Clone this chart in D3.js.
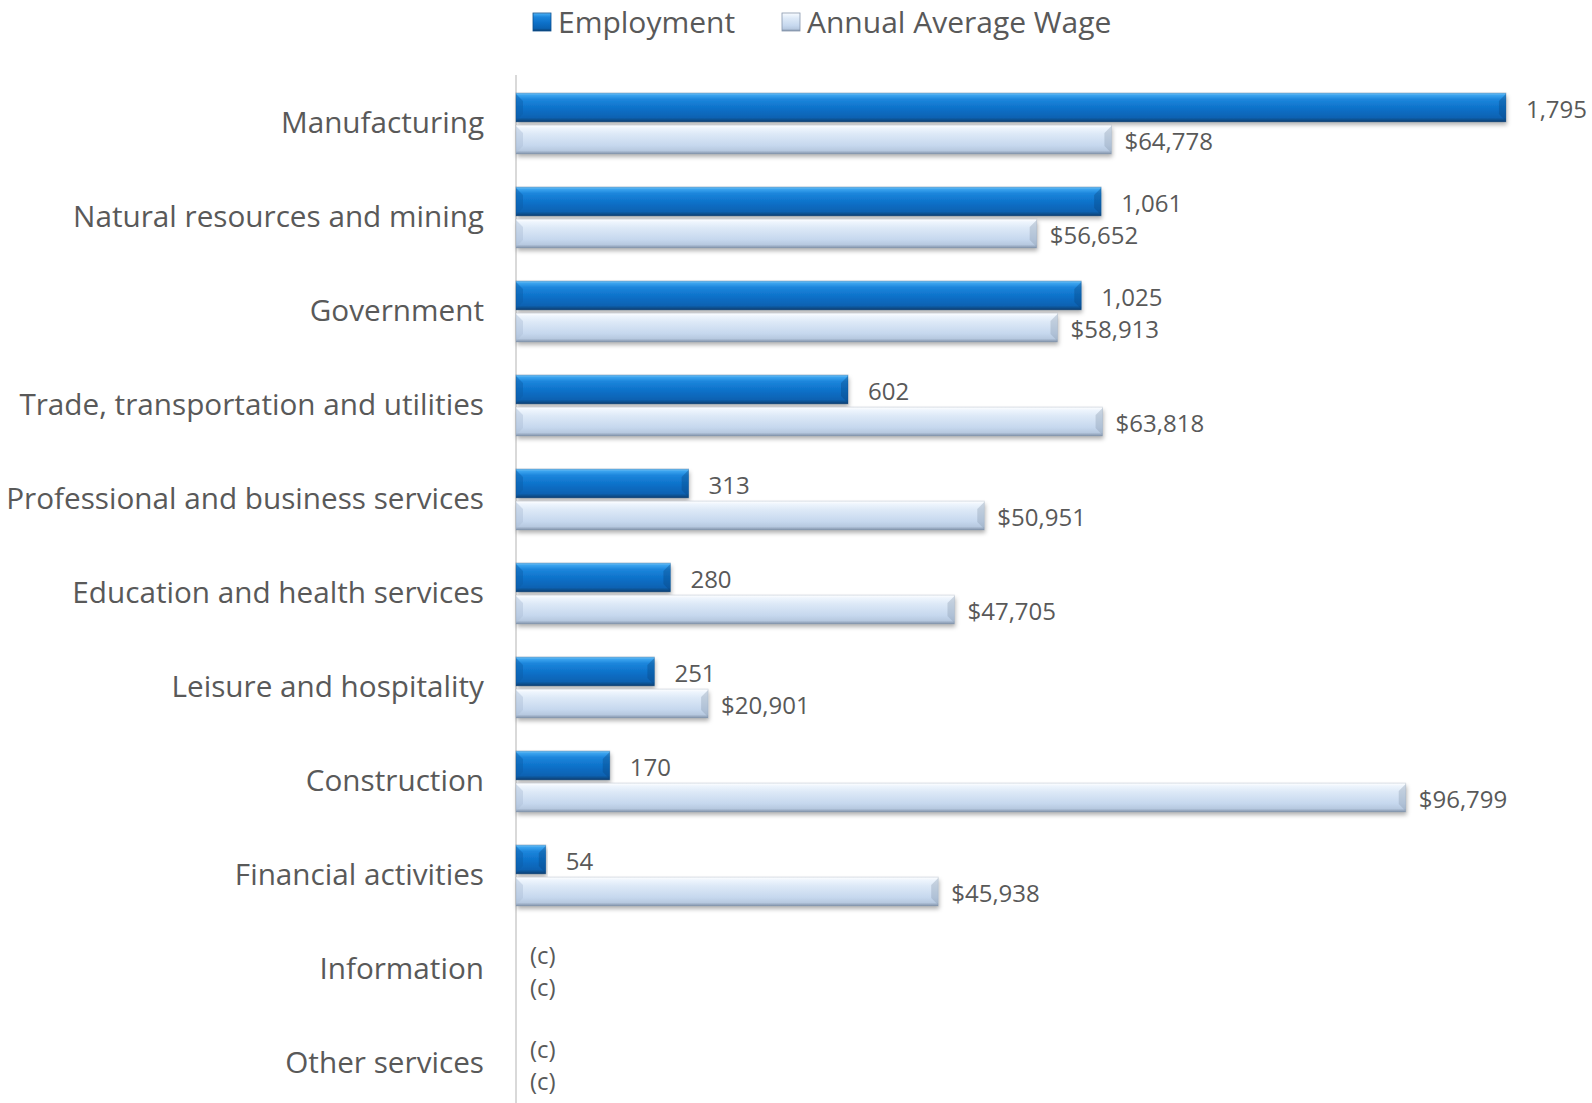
<!DOCTYPE html>
<html><head><meta charset="utf-8">
<script src="https://cdn.jsdelivr.net/npm/d3@7/dist/d3.min.js"></script>
<style>body{margin:0;background:#fff;} svg{display:block;}</style>
</head><body>
<svg id="c" width="1592" height="1103"></svg>
<script>
const categories = ["Manufacturing","Natural resources and mining","Government","Trade, transportation and utilities","Professional and business services","Education and health services","Leisure and hospitality","Construction","Financial activities","Information","Other services"];
const employment = [1795,1061,1025,602,313,280,251,170,54,null,null];
const wages = [64778,56652,58913,63818,50951,47705,20901,96799,45938,null,null];
const seriesNames = ["Employment","Annual Average Wage"];

const svg = d3.select("#c");
const font = "'Open Sans', sans-serif";
const txt = "#595959";
const x0 = 516;
const xEmp = d3.scaleLinear().domain([0,2000]).range([x0, 1619]);
const xWage = d3.scaleLinear().domain([0,120000]).range([x0, 1619]);
const y0 = d3.scaleBand().domain(categories).range([75,1109]);
const y1 = d3.scaleBand().domain(["emp","wage"]).range([18,79]).paddingInner(0.1);

const defs = svg.append("defs");
function grad(id, stops){
  const g = defs.append("linearGradient").attr("id",id).attr("x1",0).attr("y1",0).attr("x2",0).attr("y2",1);
  stops.forEach(s=>g.append("stop").attr("offset",s[0]).attr("stop-color",s[1]));
}
grad("gEmp",[[0,"#7cc4f4"],[0.08,"#3aa3ee"],[0.22,"#1c86dc"],[0.55,"#0c70c8"],[0.85,"#0a62b2"],[0.93,"#0a4f8e"],[1,"#0b3f70"]]);
grad("gWage",[[0,"#ffffff"],[0.1,"#eef5fd"],[0.3,"#dde9f7"],[0.7,"#c6d8ee"],[0.88,"#b7c9e0"],[0.95,"#97a8bf"],[1,"#7f90a8"]]);
const f = defs.append("filter").attr("id","sh").attr("x","-5%").attr("y","-30%").attr("width","110%").attr("height","170%");
f.append("feDropShadow").attr("dx",1).attr("dy",3).attr("stdDeviation",2).attr("flood-color","#000").attr("flood-opacity",0.3);

// axis line
svg.append("line").attr("x1",x0).attr("x2",x0).attr("y1",75).attr("y2",1103).attr("stroke","#d9d9d9").attr("stroke-width",2);

// category labels
svg.append("g").selectAll("text").data(categories).join("text")
  .attr("x",484).attr("y",d=>y0(d)+y0.bandwidth()/2-1)
  .attr("text-anchor","end").attr("dominant-baseline","central")
  .attr("font-family",font).attr("font-size",29.7).attr("fill",txt).text(d=>d);

function drawBars(vals, scale, key, gid, fmt, edge, lightEdge, off){
  const g = svg.append("g");
  const data = categories.map((c,i)=>({c, v: vals[i]}));
  const h = y1.bandwidth();
  data.forEach(d=>{
    const yy = y0(d.c)+y1(key);
    if(d.v!=null){
      const w = scale(d.v)-x0;
      const bg = g.append("g");
      bg.append("rect").attr("x",x0).attr("y",yy).attr("width",w).attr("height",h)
        .attr("fill",`url(#${gid})`).attr("filter","url(#sh)");
      const b = Math.min(7, w/3);
      bg.append("path").attr("d",`M${x0},${yy+1}L${x0+b},${yy+b+1}L${x0+b},${yy+h-b-1}L${x0},${yy+h-1}Z`).attr("fill",lightEdge).attr("opacity",0.45);
      bg.append("path").attr("d",`M${x0+w},${yy+1}L${x0+w-b},${yy+b+1}L${x0+w-b},${yy+h-b-1}L${x0+w},${yy+h-1}Z`).attr("fill",edge).attr("opacity",0.35);
      bg.append("rect").attr("x",x0).attr("y",yy).attr("width",w).attr("height",h).attr("fill","none").attr("stroke",edge).attr("stroke-opacity",0.35).attr("stroke-width",0.8);
    }
    g.append("text").attr("x", d.v!=null ? scale(d.v)+off : x0+14).attr("y",yy+h/2+1)
      .attr("dominant-baseline","central").attr("font-family",font).attr("font-size",24).attr("fill",txt)
      .text(d.v!=null ? fmt(d.v) : "(c)");
  });
}
drawBars(employment, xEmp, "emp", "gEmp", d3.format(","), "#08457e", "#0b5ea8", 20);
drawBars(wages, xWage, "wage", "gWage", v=>"$"+d3.format(",")(v), "#8797ad", "#aebfd6", 13);

// legend
const leg = svg.append("g");
const legItems = [{n:seriesNames[0], g:"gEmp", x:533, tx:558},{n:seriesNames[1], g:"gWage", x:782, tx:807}];
legItems.forEach(it=>{
  leg.append("rect").attr("x",it.x).attr("y",13).attr("width",18).attr("height",18).attr("fill",`url(#${it.g})`).attr("stroke",it.g==="gEmp"?"#0a4f8e":"#8797ad").attr("stroke-width",0.8);
  leg.append("text").attr("x",it.tx).attr("y",21).attr("dominant-baseline","central")
    .attr("font-family",font).attr("font-size",30).attr("fill",txt).text(it.n);
});
</script>
</body></html>
